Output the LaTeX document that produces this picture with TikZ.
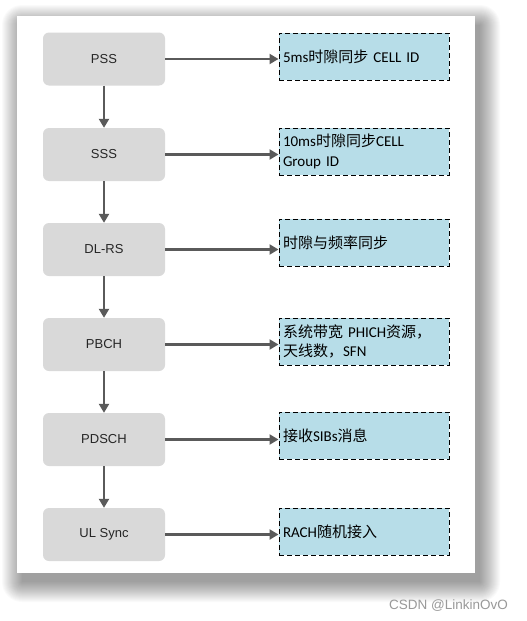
\documentclass[tikz,border=0pt]{standalone}
\usepackage{fontspec}
\setmainfont{Carlito}
\newfontfamily\leftfont{Liberation Sans}
\newfontfamily\cjk{Noto Sans CJK SC}
\usetikzlibrary{arrows.meta}
\definecolor{boxgray}{HTML}{D9D9D9}
\definecolor{boxblue}{HTML}{B7DDE8}
\definecolor{arrowgray}{HTML}{5A5A5A}
\definecolor{txtgray}{HTML}{262626}
\tikzset{
  stagebox/.style={draw=none, fill=boxgray, rounded corners=6pt, minimum width=122pt, minimum height=53pt,
    inner sep=0pt, font=\leftfont\fontsize{13}{15}\selectfont, text=txtgray},
  infobox/.style={draw=black, dash pattern=on 5pt off 3pt, line width=1pt, fill=boxblue,
    minimum width=170pt, minimum height=47pt, text width=162pt, inner xsep=4pt, inner ysep=2pt,
    align=left, font=\fontsize{15}{19.5}\selectfont, text=black},
  flow/.style={draw=arrowgray, line width=2.6pt, -{Triangle[length=9pt,width=10pt]}},
}
\begin{document}
\begin{tikzpicture}[x=1pt,y=-1pt]
\useasboundingbox (0,0) rectangle (527,621);
\fill[white] (0,0) rectangle (527,621);
\foreach \r in {20,19,...,0}
  \fill[black, opacity=0.018, rounded corners=\r pt] ({17+5-\r},{16+9-\r}) rectangle ({475+5+\r},{573+9+\r});
\fill[white] (17,16) rectangle (475,573);

\node[stagebox] (pss) at (104,59) {PSS};
\node[stagebox] (sss) at (104,154.5) {SSS};
\node[stagebox] (dlrs) at (104,249.5) {DL-RS};
\node[stagebox] (pbch) at (104,344.5) {PBCH};
\node[stagebox] (pdsch) at (104,439.5) {PDSCH};
\node[stagebox] (ul) at (104,534.5) {UL Sync};

\node[infobox] (i1) at (364,56.5) {5ms{\cjk 时隙同步} CELL ID};
\node[infobox] (i2) at (364,151.5) {10ms{\cjk 时隙同步}CELL\\Group ID};
\node[infobox] (i3) at (364,242.5) {{\cjk 时隙与频率同步}};
\node[infobox] (i4) at (364,341.5) {{\cjk 系统带宽} PHICH{\cjk 资源，}\\{\cjk 天线数，}SFN};
\node[infobox] (i5) at (364,435.5) {{\cjk 接收}SIBs{\cjk 消息}};
\node[infobox] (i6) at (364,531.5) {RACH{\cjk 随机接入}};

\foreach \a/\b in {pss/sss, sss/dlrs, dlrs/pbch, pbch/pdsch, pdsch/ul}
  \draw[flow] (\a.south) -- (\b.north);
\foreach \a/\b in {pss/i1, sss/i2, dlrs/i3, pbch/i4, pdsch/i5, ul/i6}
  \draw[flow] (\a.east) -- (\a.east -| \b.west);

\node[anchor=east, font=\leftfont\fontsize{13.5}{15}\selectfont, text=black!40, inner sep=0pt] (wm) at (508,606) {CSDN @LinkinOvO};
\end{tikzpicture}
\end{document}
